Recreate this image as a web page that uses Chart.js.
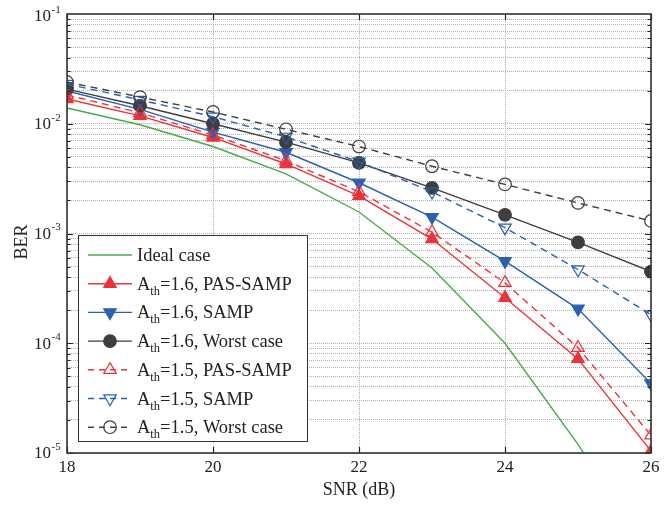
<!DOCTYPE html>
<html>
<head>
<meta charset="utf-8">
<script src="https://cdn.jsdelivr.net/npm/chart.js@4/dist/chart.umd.min.js"></script>
<style>
    body { margin: 0; background: #fff; }
    canvas { display: block; }
</style>
</head>
<body>
<canvas id="berChart" width="669" height="508"></canvas>
<script>
// SNR (dB) on x, BER on y
const snr = [18, 19, 20, 21, 22, 23, 24, 25, 26];
const xTicks = [18, 20, 22, 24, 26];
const decades = [-1, -2, -3, -4, -5];

const ideal = [0.0139, 0.0098, 0.0062, 0.0035, 0.00157, 0.000485, 0.0001, 0.000012, 0.0000011];
const pas16 = [0.0168, 0.0118, 0.0075, 0.0043, 0.0022, 0.00089, 0.00026, 0.000072, 0.0000104];
const samp16 = [0.0199, 0.0135, 0.0084, 0.0055, 0.0029, 0.00141, 0.00056, 0.000206, 0.000043];
const worst16 = [0.0207, 0.0146, 0.0100, 0.0068, 0.0044, 0.0026, 0.00148, 0.00083, 0.00045];
const pas15 = [0.0183, 0.0126, 0.0079, 0.0046, 0.0024, 0.00103, 0.000355, 0.000091, 0.0000145];
const samp15 = [0.023, 0.0165, 0.0116, 0.0076, 0.0045, 0.0024, 0.00113, 0.00047, 0.000182];
const worst15 = [0.024, 0.0175, 0.0128, 0.0089, 0.0062, 0.0041, 0.0028, 0.0019, 0.0013];

const RED = 'rgb(236,50,58)';
const BLUE = 'rgb(43,96,176)';
const DARK = 'rgb(62,62,66)';
const GREEN = 'rgb(72,170,72)';
const DASH = [7, 5];
const FONT = '"Liberation Serif", "Times New Roman", serif';

// legend rows: [main text, sub, rest]
const series = [
    { data: ideal, color: GREEN, dash: [], style: false, fill: true, text: ['Ideal case', '', ''] },
    { data: pas16, color: RED, dash: [], style: 'triangle', rot: 0, fill: true, text: ['A', 'th', '=1.6, PAS-SAMP'] },
    { data: samp16, color: BLUE, dash: [], style: 'triangle', rot: 180, fill: true, text: ['A', 'th', '=1.6, SAMP'] },
    { data: worst16, color: DARK, dash: [], style: 'circle', rot: 0, fill: true, text: ['A', 'th', '=1.6, Worst case'] },
    { data: pas15, color: RED, dash: DASH, style: 'triangle', rot: 0, fill: false, text: ['A', 'th', '=1.5, PAS-SAMP'] },
    { data: samp15, color: BLUE, dash: DASH, style: 'triangle', rot: 180, fill: false, text: ['A', 'th', '=1.5, SAMP'] },
    { data: worst15, color: DARK, dash: DASH, style: 'circle', rot: 0, fill: false, text: ['A', 'th', '=1.5, Worst case'] },
];

function radiusOf(s) {
    if (!s.style) return 0;
    return s.style === 'circle' ? 6.3 : 7.2;
}

const datasets = series.map((s, i) => ({
    label: s.text.join(''),
    data: snr.map((x, k) => ({ x: x, y: s.data[k] })),
    borderColor: s.color,
    borderWidth: 1.4,
    borderDash: s.dash,
    backgroundColor: s.fill ? s.color : 'rgba(255,255,255,0)',
    pointStyle: s.style || 'circle',
    pointRotation: s.rot || 0,
    pointRadius: radiusOf(s),
    pointBorderWidth: 1.2,
    pointBackgroundColor: s.fill ? s.color : 'rgba(255,255,255,0)',
    pointBorderColor: s.color,
    tension: 0,
    clip: 0,
    order: series.length - i,
}));

function drawMarker(ctx, s, x, y) {
    if (!s.style) return;
    ctx.save();
    ctx.setLineDash([]);
    ctx.fillStyle = s.fill ? s.color : 'rgba(255,255,255,0)';
    ctx.strokeStyle = s.color;
    ctx.lineWidth = 1.2;
    Chart.helpers.drawPoint(ctx, { pointStyle: s.style, radius: radiusOf(s), rotation: s.rot, borderWidth: 1.2 }, x, y);
    ctx.restore();
}

const framePlugin = {
    id: 'frame',
    afterDraw(chart) {
        const ctx = chart.ctx;
        const a = chart.chartArea;
        const xs = chart.scales.x;
        const ys = chart.scales.y;
        ctx.save();

        // tick marks (inward, on all four sides)
        ctx.strokeStyle = '#222';
        ctx.lineWidth = 1.2;
        ctx.beginPath();
        xTicks.forEach((v) => {
            const px = Math.round(xs.getPixelForValue(v)) + 0.5;
            ctx.moveTo(px, a.bottom); ctx.lineTo(px, a.bottom - 6);
            ctx.moveTo(px, a.top); ctx.lineTo(px, a.top + 6);
        });
        decades.forEach((e) => {
            for (let m = 1; m <= 9; m++) {
                const v = m * Math.pow(10, e - 1);
                if (v < 1e-5 - 1e-12 || v > 0.1 + 1e-12) continue;
                const py = Math.round(ys.getPixelForValue(v)) + 0.5;
                const len = m === 1 ? 6 : 3.5;
                ctx.moveTo(a.left, py); ctx.lineTo(a.left + len, py);
                ctx.moveTo(a.right, py); ctx.lineTo(a.right - len, py);
            }
        });
        ctx.stroke();

        // box
        ctx.strokeStyle = '#333';
        ctx.lineWidth = 1.6;
        ctx.strokeRect(a.left, a.top, a.right - a.left, a.bottom - a.top);

        // x tick labels
        ctx.fillStyle = '#222';
        ctx.font = '17px ' + FONT;
        ctx.textAlign = 'center';
        ctx.textBaseline = 'middle';
        xTicks.forEach((v) => {
            ctx.fillText(String(v), xs.getPixelForValue(v), 468);
        });

        // y tick labels 10^e
        decades.forEach((e) => {
            const py = ys.getPixelForValue(Math.pow(10, e));
            const cy = e === -1 ? py + 3 : py + 1;
            ctx.font = '17px ' + FONT;
            ctx.textAlign = 'right';
            ctx.textBaseline = 'middle';
            ctx.fillText('10', 51, cy);
            ctx.font = '11px ' + FONT;
            ctx.textAlign = 'left';
            ctx.fillText('-' + (-e), 51.5, cy - 7);
        });

        // axis titles
        ctx.font = '18px ' + FONT;
        ctx.textAlign = 'center';
        ctx.textBaseline = 'middle';
        ctx.fillText('SNR (dB)', (a.left + a.right) / 2, 490);
        ctx.save();
        ctx.translate(22, 242);
        ctx.rotate(-Math.PI / 2);
        ctx.fillText('BER', 0, 0);
        ctx.restore();

        // legend
        const lx = 78, ly = 235, lw = 229, lh = 206;
        ctx.fillStyle = '#fff';
        ctx.fillRect(lx, ly, lw, lh);
        ctx.strokeStyle = '#333';
        ctx.lineWidth = 1;
        ctx.strokeRect(lx + 0.5, ly + 0.5, lw, lh);
        series.forEach((s, i) => {
            const cy = 255 + i * 28.7;
            ctx.save();
            ctx.strokeStyle = s.color;
            ctx.lineWidth = 1.4;
            ctx.setLineDash(s.dash.length ? [6, 5] : []);
            ctx.beginPath();
            ctx.moveTo(88, cy); ctx.lineTo(132, cy);
            ctx.stroke();
            ctx.restore();
            drawMarker(ctx, s, 110, cy);

            ctx.fillStyle = '#222';
            ctx.textAlign = 'left';
            ctx.textBaseline = 'alphabetic';
            ctx.font = '18.5px ' + FONT;
            let tx = 137;
            const base = cy + 6;
            ctx.fillText(s.text[0], tx, base);
            tx += ctx.measureText(s.text[0]).width;
            if (s.text[1]) {
                ctx.font = '12.5px ' + FONT;
                ctx.fillText(s.text[1], tx, base + 5);
                tx += ctx.measureText(s.text[1]).width;
                ctx.font = '18.5px ' + FONT;
                ctx.fillText(s.text[2], tx, base);
            }
        });
        ctx.restore();
    },
};

const bgPlugin = {
    id: 'bg',
    beforeDraw(chart) {
        const ctx = chart.ctx;
        ctx.save();
        ctx.fillStyle = '#fff';
        ctx.fillRect(0, 0, chart.width, chart.height);
        ctx.restore();
    },
};

new Chart(document.getElementById('berChart').getContext('2d'), {
    type: 'line',
    data: { datasets: datasets },
    options: {
        responsive: false,
        animation: false,
        devicePixelRatio: 1,
        layout: { padding: { left: 0, top: 14, right: 18, bottom: 0 } },
        plugins: { legend: { display: false }, tooltip: { enabled: false } },
        scales: {
            x: {
                type: 'linear',
                min: 18,
                max: 26,
                afterBuildTicks: (scale) => {
                    scale.ticks = xTicks.map((v) => ({ value: v }));
                },
                afterFit: (scale) => { scale.height = 55; },
                ticks: { display: false },
                grid: { color: '#b0b0b0', lineWidth: 1, drawTicks: false },
                border: { display: false, dash: [1, 1] },
            },
            y: {
                type: 'logarithmic',
                min: 1e-5,
                max: 1e-1,
                afterBuildTicks: (scale) => {
                    const t = [];
                    decades.forEach((e) => {
                        for (let m = 1; m <= 9; m++) {
                            const v = m * Math.pow(10, e - 1);
                            if (v >= 1e-5 - 1e-12 && v <= 0.1 + 1e-12) t.push({ value: v });
                        }
                    });
                    scale.ticks = t;
                },
                afterFit: (scale) => { scale.width = 67; },
                ticks: { display: false },
                grid: { color: '#b0b0b0', lineWidth: 1, drawTicks: false },
                border: { display: false, dash: [1, 1] },
            },
        },
    },
    plugins: [bgPlugin, framePlugin],
});
</script>
</body>
</html>
